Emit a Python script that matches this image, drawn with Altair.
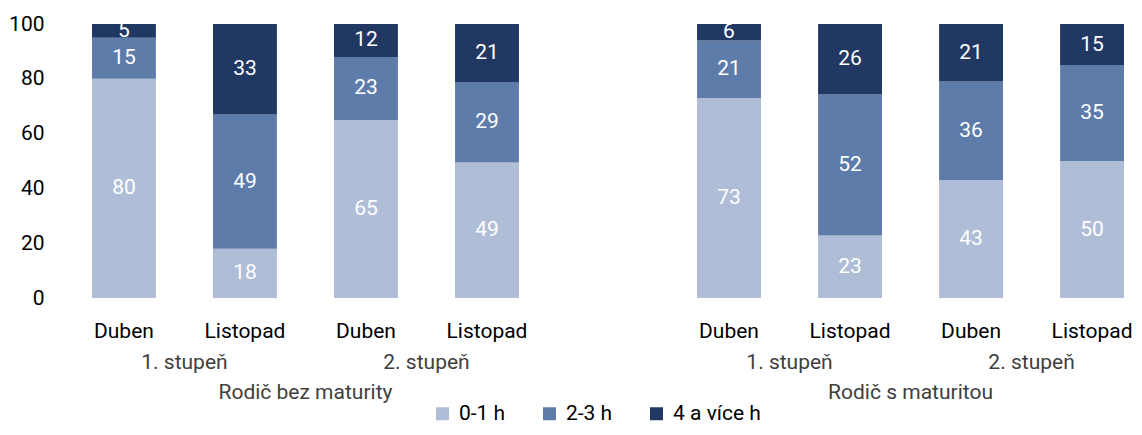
import altair as alt
import pandas as pd

# ---- data ----
groups = ["Rodič bez maturity"] * 4 + ["Rodič s maturitou"] * 4
levels = ["1. stupeň", "1. stupeň", "2. stupeň", "2. stupeň"] * 2
months = ["Duben", "Listopad"] * 4
v_01 = [80, 18, 65, 49, 73, 23, 43, 50]
v_23 = [15, 49, 23, 29, 21, 52, 36, 35]
v_4 = [5, 33, 12, 21, 6, 26, 21, 15]
cats = ["0-1 h", "2-3 h", "4 a více h"]
colors = ["#AFBDD7", "#5E7CAA", "#213863"]

FONT = "Roboto"
FS = 21

keys = [f"{i}|{m}" for i, m in enumerate(months)]
domain = keys[:4] + ["sp|"] + keys[4:]

rows = []
for i, k in enumerate(keys):
    for o, (c, vals) in enumerate(zip(cats, [v_01, v_23, v_4])):
        rows.append({"key": k, "cat": c, "order": o, "value": vals[i]})
df = pd.DataFrame(rows)

W, H = 1032, 274
P_IN = 0.472
step = W / (len(domain) - P_IN)

xscale = alt.Scale(domain=domain, paddingInner=P_IN, paddingOuter=0)

base = alt.Chart(df).transform_stack(
    stack="value", groupby=["key"], as_=["y0", "y1"], offset="normalize",
    sort=[alt.SortField("order", "ascending")]
).transform_calculate(mid="(datum.y0 + datum.y1) / 2")

bars = base.mark_bar(strokeWidth=0).encode(
    x=alt.X("key:N", scale=xscale, sort=domain,
            axis=alt.Axis(title=None, labelExpr="split(datum.value, '|')[1]",
                          labelAngle=0, ticks=False, tickSize=0, domain=False,
                          labelPadding=39, labelBaseline="alphabetic",
                          labelFontSize=FS, labelColor="black", labelFont=FONT)),
    y=alt.Y("y0:Q", scale=alt.Scale(domain=[0, 1], nice=False),
            axis=alt.Axis(title=None, values=[0, 0.2, 0.4, 0.6, 0.8, 1.0],
                          labelExpr="format(datum.value * 100, 'd')",
                          ticks=False, tickSize=0, domain=False, grid=False,
                          labelPadding=48, labelFontSize=FS, labelColor="black",
                          labelFont=FONT)),
    y2="y1:Q",
    color=alt.Color("cat:N", scale=alt.Scale(domain=cats, range=colors),
                    legend=alt.Legend(title=None, orient="none", direction="horizontal",
                                      legendX=340, legendY=379, symbolType="square",
                                      symbolSize=169, symbolStrokeWidth=0,
                                      labelFontSize=FS, labelFont=FONT, labelColor="black",
                                      labelOffset=6, columnPadding=33, padding=0)),
)

labels = base.mark_text(color="white", fontSize=FS, font=FONT, baseline="middle").encode(
    x=alt.X("key:N", scale=xscale, sort=domain),
    y=alt.Y("mid:Q"),
    text=alt.Text("value:Q"),
)

lvl_df = pd.DataFrame({"key": [keys[0], keys[2], keys[4], keys[6]],
                       "label": [levels[0], levels[2], levels[4], levels[6]]})
grp_df = pd.DataFrame({"key": [keys[1], keys[5]], "label": [groups[1], groups[5]]})

lvl_text = alt.Chart(lvl_df).mark_text(fontSize=FS, font=FONT, color="#404040",
                                       baseline="alphabetic", dx=step / 2).encode(
    x=alt.X("key:N", scale=xscale, sort=domain),
    y=alt.value(H + 71),
    text="label:N",
)
grp_text = alt.Chart(grp_df).mark_text(fontSize=FS, font=FONT, color="#404040",
                                       baseline="alphabetic", dx=step / 2).encode(
    x=alt.X("key:N", scale=xscale, sort=domain),
    y=alt.value(H + 101),
    text="label:N",
)

chart = alt.layer(bars, labels, lvl_text, grp_text).properties(
    width=W, height=H,
    autosize=alt.AutoSizeParams(type="none"),
    padding={"left": 84, "top": 16, "right": 10, "bottom": 129},
).configure_view(stroke=None)

chart.save("out.html", embed_options={"renderer": "svg", "actions": False})
